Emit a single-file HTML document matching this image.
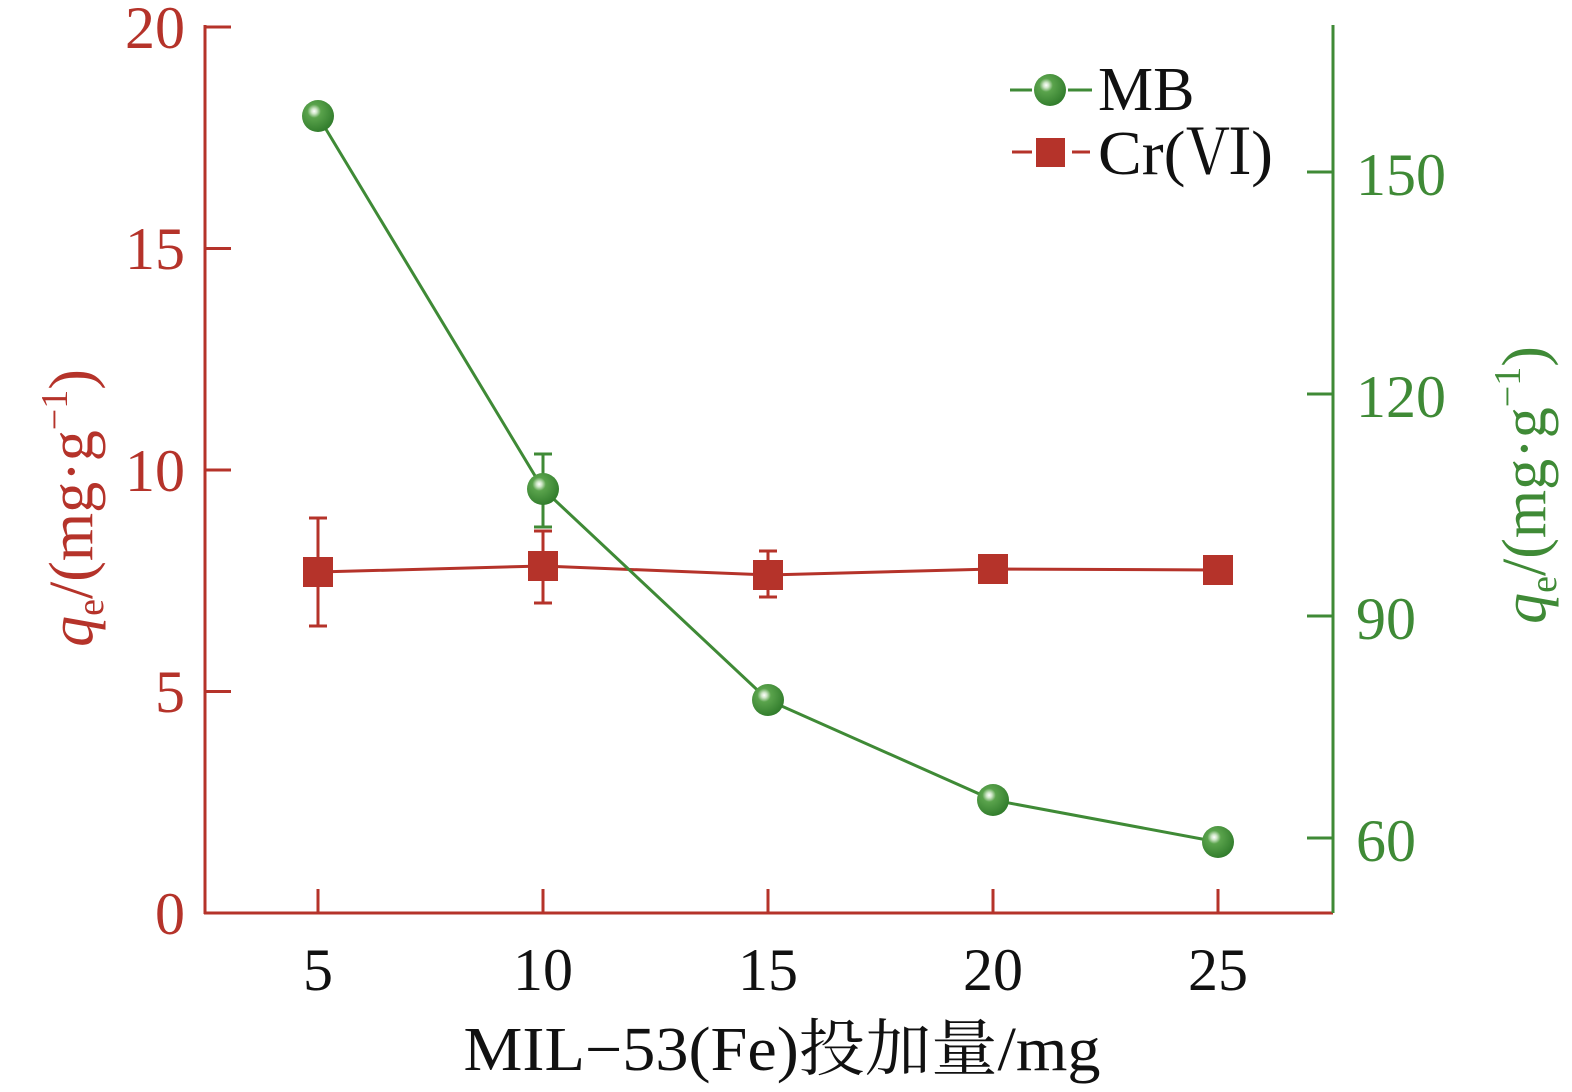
<!DOCTYPE html>
<html><head><meta charset="utf-8"><style>
html,body{margin:0;padding:0;background:#fff;}
svg{display:block;}
text{font-family:"Liberation Serif","Noto Serif CJK SC",serif;}
</style></head><body>
<svg width="1572" height="1092" viewBox="0 0 1572 1092" xmlns="http://www.w3.org/2000/svg">
<defs>
<radialGradient id="sph" cx="0.38" cy="0.35" r="0.7">
<stop offset="0" stop-color="#ffffff"/>
<stop offset="0.12" stop-color="#cfe6c8"/>
<stop offset="0.3" stop-color="#5aa34c"/>
<stop offset="1" stop-color="#2f7a2a"/>
</radialGradient>
</defs>
<g stroke="#b5332a" stroke-width="3" fill="none">
<line x1="205" y1="25" x2="205" y2="914"/>
<line x1="204" y1="913" x2="1333" y2="913"/>
<line x1="205" y1="27" x2="231" y2="27"/>
<line x1="205" y1="248.5" x2="231" y2="248.5"/>
<line x1="205" y1="470" x2="231" y2="470"/>
<line x1="205" y1="691.5" x2="231" y2="691.5"/>
<line x1="318" y1="913" x2="318" y2="889"/>
<line x1="543" y1="913" x2="543" y2="889"/>
<line x1="768" y1="913" x2="768" y2="889"/>
<line x1="993" y1="913" x2="993" y2="889"/>
<line x1="1218" y1="913" x2="1218" y2="889"/>
</g>
<g stroke="#3f8a36" stroke-width="3" fill="none">
<line x1="1333" y1="25" x2="1333" y2="913"/>
<line x1="1333" y1="172" x2="1307" y2="172"/>
<line x1="1333" y1="394" x2="1307" y2="394"/>
<line x1="1333" y1="616" x2="1307" y2="616"/>
<line x1="1333" y1="838" x2="1307" y2="838"/>
</g>
<g fill="#b5332a" font-size="60" text-anchor="end">
<text x="185" y="48">20</text><text x="185" y="269">15</text><text x="185" y="491">10</text><text x="185" y="712">5</text><text x="185" y="934">0</text>
</g>
<g fill="#3f8a36" font-size="60">
<text x="1356" y="195">150</text><text x="1356" y="417">120</text><text x="1356" y="639">90</text><text x="1356" y="861">60</text>
</g>
<g fill="#111" font-size="60" text-anchor="middle">
<text x="318" y="990">5</text><text x="543" y="990">10</text><text x="768" y="990">15</text><text x="993" y="990">20</text><text x="1218" y="990">25</text>
</g>
<text x="782" y="1070" fill="#111" font-size="62" text-anchor="middle" textLength="637" lengthAdjust="spacingAndGlyphs">MIL−53(Fe)投加量/mg</text>
<text transform="translate(92,508) rotate(-90)" fill="#b5332a" font-size="62" text-anchor="middle"><tspan font-style="italic">q</tspan><tspan font-size="38" dy="11">e</tspan><tspan dy="-11">/(mg·g</tspan><tspan font-size="38" dy="-25">−1</tspan><tspan dy="25">)</tspan></text>
<text transform="translate(1545,485) rotate(-90)" fill="#3f8a36" font-size="62" text-anchor="middle"><tspan font-style="italic">q</tspan><tspan font-size="38" dy="11">e</tspan><tspan dy="-11">/(mg·g</tspan><tspan font-size="38" dy="-25">−1</tspan><tspan dy="25">)</tspan></text>
<!-- Cr series -->
<g stroke="#b5332a" stroke-width="3">
<polyline fill="none" points="318,572 543,566 768,575 993,569 1218,570"/>
<line x1="318" y1="518" x2="318" y2="626"/><line x1="309" y1="518" x2="327" y2="518"/><line x1="309" y1="626" x2="327" y2="626"/>
<line x1="543" y1="531" x2="543" y2="603"/><line x1="534" y1="531" x2="552" y2="531"/><line x1="534" y1="603" x2="552" y2="603"/>
<line x1="768" y1="551" x2="768" y2="597"/><line x1="759" y1="551" x2="777" y2="551"/><line x1="759" y1="597" x2="777" y2="597"/>
</g>
<g fill="#b5332a">
<rect x="303" y="557" width="30" height="30"/><rect x="528" y="551" width="30" height="30"/><rect x="753" y="560" width="30" height="30"/><rect x="978" y="554" width="30" height="30"/><rect x="1203" y="555" width="30" height="30"/>
</g>
<!-- MB series -->
<g stroke="#3f8a36" stroke-width="3">
<polyline fill="none" points="318,116 543,489 768,700 993,800 1218,842"/>
<line x1="543" y1="454" x2="543" y2="527"/><line x1="534" y1="454" x2="552" y2="454"/><line x1="534" y1="527" x2="552" y2="527"/>
</g>
<g fill="url(#sph)">
<circle cx="318" cy="116" r="16"/><circle cx="543" cy="489" r="16"/><circle cx="768" cy="700" r="16"/><circle cx="993" cy="800" r="16"/><circle cx="1218" cy="842" r="16"/>
</g>
<!-- legend -->
<g stroke-width="3">
<line x1="1010" y1="90" x2="1032" y2="90" stroke="#3f8a36"/><line x1="1068" y1="90" x2="1092" y2="90" stroke="#3f8a36"/>
<line x1="1012" y1="152" x2="1032" y2="152" stroke="#b5332a"/><line x1="1072" y1="152" x2="1090" y2="152" stroke="#b5332a"/>
</g>
<circle cx="1050" cy="90" r="16" fill="url(#sph)"/>
<rect x="1036" y="138" width="29" height="29" fill="#b5332a"/>
<g fill="#111" font-size="62">
<text x="1098" y="110">MB</text><text x="1098" y="174" textLength="175" lengthAdjust="spacingAndGlyphs">Cr(Ⅵ)</text>
</g>
</svg>
</body></html>
